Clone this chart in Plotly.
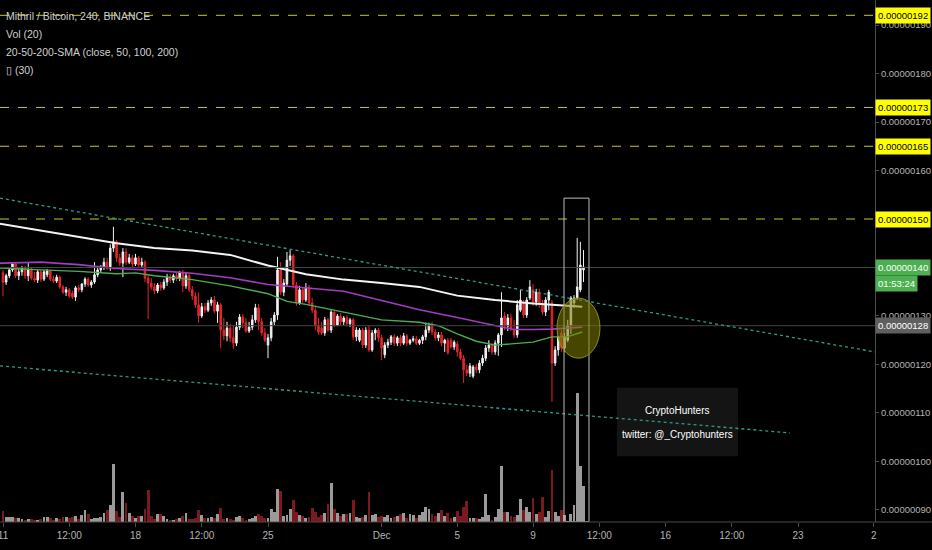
import pandas as pd
import plotly.graph_objects as go

# 4h candles, prices in satoshi (1e-8 BTC)
start = "2018-11-11 00:00"
opens = [138.9, 137.0, 138.3, 139.5, 140.7, 138.3, 139.1, 139.9, 138.3, 139.5,
         137.8, 137.4, 139.1, 137.6, 138.5, 139.3, 137.6, 137.2, 138.0, 136.0,
         134.9, 135.4, 134.7, 133.9, 135.8, 135.4, 136.6, 137.6, 136.4, 137.0,
         138.5, 139.5, 140.1, 141.1, 139.9, 144.0, 145.3, 142.0, 140.9, 143.2,
         141.1, 142.0, 140.7, 142.0, 140.5, 141.1, 137.8, 136.8, 136.0, 135.2,
         136.4, 135.8, 137.0, 138.0, 137.4, 138.3, 137.8, 138.9, 136.2, 138.3,
         135.4, 134.1, 132.3, 130.0, 131.9, 131.2, 132.7, 133.3, 131.0, 132.3,
         127.1, 125.9, 127.5, 125.5, 124.4, 127.7, 129.8, 128.6, 126.9, 127.7,
         129.2, 131.7, 128.8, 126.5, 124.0, 125.5, 128.8, 130.2, 139.5, 134.9,
         136.6, 141.5, 142.4, 136.4, 132.7, 135.4, 133.3, 135.8, 132.7, 131.2,
         128.1, 127.5, 126.5, 129.2, 127.1, 130.8, 128.1, 130.0, 128.8, 129.6,
         128.4, 129.2, 125.7, 125.0, 127.1, 124.0, 127.1, 123.0, 126.5, 127.1,
         125.5, 122.0, 124.0, 124.6, 125.7, 124.4, 125.5, 124.4, 125.9, 124.4,
         125.0, 125.3, 124.4, 125.0, 125.7, 127.1, 128.1, 126.7, 125.5, 126.1,
         124.4, 125.0, 125.0, 123.6, 124.2, 122.6, 121.3, 118.9, 118.2, 117.6,
         119.5, 118.9, 120.3, 121.3, 123.4, 124.0, 122.6, 124.4, 126.1, 130.0,
         127.9, 129.6, 127.1, 126.1, 131.2, 132.7, 130.2, 133.7, 135.4, 132.9,
         134.9, 132.3, 130.8, 133.3, 132.7, 120.3, 123.0, 126.5, 123.4, 125.0,
         128.1, 132.7, 133.7, 135.4, 139.5]
highs = [139.5, 138.7, 139.9, 141.1, 140.9, 139.7, 140.3, 140.3, 141.1, 139.9,
         139.1, 139.5, 139.5, 139.5, 139.7, 139.5, 138.3, 138.5, 138.3, 136.4,
         136.0, 135.8, 135.2, 136.2, 136.4, 136.8, 138.0, 138.0, 137.4, 141.1,
         140.3, 140.5, 142.0, 142.0, 144.8, 148.4, 145.7, 142.8, 144.0, 144.0,
         142.8, 142.6, 142.8, 142.4, 142.0, 141.5, 138.5, 137.8, 136.8, 136.8,
         137.0, 137.6, 138.7, 138.7, 138.7, 138.9, 139.3, 139.5, 139.1, 138.7,
         136.2, 134.9, 134.9, 132.7, 132.7, 133.3, 133.9, 134.1, 132.9, 132.7,
         129.6, 128.8, 128.4, 127.9, 128.8, 130.4, 130.4, 129.6, 128.8, 130.2,
         132.5, 132.5, 129.6, 127.5, 126.3, 129.6, 130.8, 142.2, 141.1, 137.6,
         143.2, 143.6, 142.8, 137.0, 136.2, 136.0, 136.8, 136.4, 133.7, 132.1,
         129.6, 128.8, 129.8, 129.6, 131.2, 131.0, 130.4, 130.6, 130.0, 130.2,
         129.6, 129.6, 127.7, 127.5, 127.5, 127.7, 128.1, 127.1, 127.5, 127.5,
         126.1, 124.6, 125.3, 126.1, 126.3, 125.9, 126.1, 126.5, 126.3, 125.3,
         125.9, 125.9, 125.3, 126.1, 128.6, 128.6, 128.8, 127.3, 126.7, 126.7,
         125.3, 125.5, 125.5, 125.0, 124.8, 123.2, 122.0, 119.9, 120.3, 119.9,
         120.1, 120.9, 122.0, 124.0, 125.0, 124.4, 125.0, 126.5, 134.9, 130.8,
         130.4, 130.4, 129.2, 133.3, 135.4, 133.3, 133.9, 137.4, 136.6, 135.6,
         135.6, 133.3, 133.9, 135.4, 133.3, 123.8, 125.9, 127.1, 126.5, 129.2,
         134.1, 134.3, 146.1, 145.3, 143.6]
lows = [134.1, 136.4, 137.8, 139.1, 137.8, 137.4, 138.3, 137.6, 137.2, 137.4,
        137.0, 136.8, 137.0, 137.2, 138.0, 137.2, 136.8, 136.8, 135.6, 134.5,
        134.1, 133.7, 133.5, 133.1, 134.9, 134.9, 136.0, 136.0, 135.8, 136.6,
        138.0, 138.9, 139.5, 139.5, 139.3, 143.2, 141.1, 140.3, 138.0, 140.5,
        140.7, 140.1, 140.3, 139.9, 139.9, 137.0, 129.4, 135.4, 134.5, 134.7,
        135.2, 135.4, 136.2, 136.8, 136.8, 137.2, 137.2, 134.9, 135.6, 134.9,
        133.3, 131.7, 128.6, 129.6, 130.6, 130.8, 132.1, 130.6, 128.6, 123.4,
        125.0, 124.8, 124.6, 123.2, 123.8, 127.1, 127.5, 126.5, 126.5, 127.1,
        128.6, 127.1, 125.9, 124.6, 121.3, 124.8, 128.1, 129.2, 134.3, 134.1,
        136.0, 140.3, 135.8, 132.1, 132.3, 132.7, 132.9, 132.1, 130.6, 127.1,
        126.1, 126.1, 125.9, 126.7, 126.5, 127.7, 127.9, 128.1, 128.1, 127.9,
        127.7, 125.0, 124.8, 124.6, 123.4, 123.4, 122.6, 122.6, 125.0, 124.6,
        120.9, 121.3, 123.4, 124.0, 123.8, 123.8, 123.8, 124.0, 123.8, 124.0,
        124.6, 124.0, 124.0, 124.2, 125.0, 126.5, 126.1, 125.0, 124.8, 123.8,
        122.6, 122.0, 123.2, 123.0, 121.6, 120.9, 116.2, 117.6, 117.4, 117.2,
        118.2, 118.2, 119.7, 120.7, 122.6, 122.0, 122.0, 121.8, 123.6, 127.1,
        126.9, 126.9, 125.5, 125.5, 130.8, 129.6, 129.6, 133.3, 132.1, 132.1,
        131.7, 130.2, 130.0, 131.2, 112.3, 119.7, 121.8, 122.6, 122.6, 124.6,
        126.3, 131.7, 133.3, 134.9, 137.0]
closes = [137.0, 138.3, 139.5, 140.7, 138.3, 139.1, 139.9, 138.3, 139.5, 137.8,
          137.4, 139.1, 137.6, 139.1, 139.3, 137.6, 137.2, 138.0, 136.0, 134.9,
          135.4, 134.1, 133.9, 135.8, 135.4, 136.6, 137.6, 136.4, 137.0, 138.5,
          139.5, 140.1, 141.1, 139.9, 144.0, 145.3, 142.0, 140.9, 143.2, 141.1,
          142.0, 140.7, 142.0, 140.5, 141.1, 137.8, 136.8, 136.0, 135.2, 136.4,
          135.8, 137.0, 138.0, 137.4, 138.3, 137.8, 138.9, 136.2, 138.3, 135.4,
          134.1, 132.3, 130.0, 131.9, 131.2, 132.7, 133.3, 131.0, 132.3, 127.1,
          125.9, 127.5, 125.5, 124.4, 127.7, 129.8, 128.6, 126.9, 127.7, 129.2,
          131.7, 128.8, 126.5, 125.0, 125.5, 128.8, 130.2, 139.5, 134.9, 136.8,
          141.5, 142.4, 136.4, 132.7, 135.4, 133.3, 135.8, 132.7, 131.2, 128.1,
          126.7, 126.5, 129.2, 127.1, 130.8, 128.1, 130.0, 128.8, 129.6, 128.4,
          129.2, 125.7, 127.1, 127.1, 124.0, 127.1, 123.0, 126.5, 127.1, 125.5,
          123.4, 124.0, 124.6, 125.7, 124.4, 125.5, 124.4, 125.9, 124.4, 125.0,
          125.3, 124.4, 125.0, 125.7, 127.1, 128.1, 126.7, 125.5, 126.1, 124.4,
          125.0, 122.4, 123.6, 124.6, 122.6, 121.3, 118.9, 118.2, 119.7, 119.5,
          118.9, 120.3, 121.3, 123.4, 124.0, 122.6, 124.4, 126.1, 129.6, 127.9,
          129.6, 127.5, 126.1, 132.3, 133.3, 130.2, 133.3, 136.0, 132.9, 134.9,
          132.3, 130.8, 133.3, 134.9, 120.3, 123.0, 125.7, 123.4, 125.7, 128.1,
          133.7, 133.7, 136.0, 140.5, 140.1]
volume = [11, 5, 5, 5, 4, 4, 3, 2, 3, 3, 2, 2, 3, 5, 5, 4, 2, 4, 3, 5,
          5, 4, 5, 6, 3, 7, 12, 8, 3, 4, 4, 5, 9, 12, 17, 58, 11, 5, 30, 19,
          9, 6, 4, 6, 6, 13, 32, 6, 3, 8, 8, 6, 3, 2, 2, 3, 4, 6, 9, 3,
          3, 4, 12, 7, 4, 4, 5, 4, 8, 14, 3, 4, 3, 2, 5, 6, 4, 2, 3, 4,
          6, 8, 6, 4, 4, 13, 10, 33, 31, 6, 7, 13, 22, 10, 7, 6, 4, 5, 14, 10,
          5, 7, 9, 18, 39, 13, 9, 6, 8, 8, 9, 22, 5, 4, 5, 7, 30, 7, 8, 5,
          6, 5, 7, 4, 5, 6, 8, 9, 4, 8, 7, 4, 7, 10, 15, 13, 8, 6, 9, 12,
          6, 9, 4, 5, 11, 6, 15, 21, 4, 4, 4, 3, 5, 28, 7, 2, 5, 13, 56, 10,
          10, 6, 5, 7, 23, 12, 15, 10, 24, 8, 10, 25, 5, 11, 52, 10, 6, 12, 7, 1,
          8, 17, 129, 56, 36]

# moving averages, read at day offsets from Nov 11
sma_a_days = [-0.16, 0, 2, 4, 6, 8, 10, 12, 14, 16, 18, 20, 22, 24, 26, 28, 29, 30.6]
sma_a = [149.0, 148.9, 147.6, 146.4, 145.0, 144.0, 143.5, 142.6, 140.4, 138.6,
         137.5, 136.8, 136.0, 134.2, 133.3, 132.6, 132.3, 131.9]
sma_b_days = [-0.16, 0, 2, 4, 6, 8, 10, 12, 14, 16, 18, 20, 22, 24, 26, 27, 28, 29, 30.6]
sma_b = [140.9, 140.9, 141.1, 140.6, 139.8, 139.4, 138.8, 137.9, 136.5, 135.8,
         135.1, 133.2, 131.3, 129.7, 128.1, 127.2, 127.2, 127.3, 127.7]
sma_c_days = [-0.16, 0, 2, 4, 6, 7, 8, 10, 12, 14, 15, 16, 18, 20, 22, 23, 24, 25,
              26, 28, 29, 29.8, 30.6]
sma_c = [139.9, 139.9, 139.5, 139.2, 138.7, 138.9, 138.3, 137.5, 136.2, 134.6,
         133.0, 132.4, 130.8, 129.2, 128.7, 128.0, 126.3, 124.8, 124.0, 124.6,
         125.7, 125.7, 126.7]

yellow_levels = [192, 173, 165, 150]
last_price = 140
mark_price = 128
countdown = "01:53:24"

upper_trend = (["2018-11-10 20:12", "2018-12-27 01:30"], [154.3, 122.6])
lower_trend = (["2018-11-10 20:12", "2018-12-22 13:40"], [119.7, 105.9])

price_ticks = [90, 100, 110, 120, 130, 140, 150, 160, 170, 180, 190]
tick_dates = ["2018-11-11", "2018-11-14 12:00", "2018-11-18", "2018-11-21 12:00",
              "2018-11-25", "2018-12-01", "2018-12-05", "2018-12-09",
              "2018-12-12 12:00", "2018-12-16", "2018-12-19 12:00", "2018-12-23",
              "2018-12-27"]
tick_text = ["11", "12:00", "18", "12:00", "25", "Dec", "5", "9", "12:00", "16",
             "12:00", "23", "2"]

FONT = "Liberation Sans, Arial, sans-serif"
UP, DOWN = "#f2f2f2", "#e3262b"
VOL_UP, VOL_DOWN = "#9a9a9a", "#7a1a1e"

t0 = pd.Timestamp(start)
times = pd.date_range(start, periods=len(closes), freq="4h")
vol_colors = [VOL_UP if c >= o else VOL_DOWN for o, c in zip(opens, closes)]


def day_dates(days):
    return [t0 + pd.Timedelta(days=d) for d in days]


def fmt(v):
    return f"{v * 1e-8:.8f}"


# tick labels that sit fully under a price tag are hidden, as in the screenshot
covered = {last_price, 150}
price_ticktext = ["" if v in covered else fmt(v) for v in price_ticks]

fig = go.Figure()
fig.add_trace(go.Bar(x=times, y=volume, marker_color=vol_colors, marker_line_width=0,
                     width=4 * 3600 * 1000 * 0.9, yaxis="y", hoverinfo="skip"))
fig.add_trace(go.Candlestick(
    x=times, open=opens, high=highs, low=lows, close=closes, yaxis="y2",
    increasing=dict(line=dict(color=UP, width=1), fillcolor=UP),
    decreasing=dict(line=dict(color=DOWN, width=1), fillcolor=DOWN),
    whiskerwidth=0, hoverinfo="skip"))
for days, vals, col, w in [(sma_c_days, sma_c, "#4caf50", 1.4),
                           (sma_b_days, sma_b, "#a23cc0", 1.6),
                           (sma_a_days, sma_a, "#f4f4f4", 2)]:
    fig.add_trace(go.Scatter(x=day_dates(days), y=vals, mode="lines", yaxis="y2",
                             line=dict(color=col, width=w), hoverinfo="skip"))

shapes = []
for lv in yellow_levels:
    shapes.append(dict(type="line", xref="paper", yref="y2", x0=0, x1=1, y0=lv, y1=lv,
                       line=dict(color="#c9c62a", width=1, dash="dash")))
for lv in (last_price, mark_price):
    shapes.append(dict(type="line", xref="paper", yref="y2", x0=0, x1=1, y0=lv, y1=lv,
                       line=dict(color="#3c4a40" if lv == last_price else "#444444", width=1)))
for xs, ys in (upper_trend, lower_trend):
    shapes.append(dict(type="line", xref="x", yref="y2", x0=xs[0], x1=xs[1],
                       y0=ys[0], y1=ys[1], line=dict(color="#2a9d8a", width=1.3, dash="dot")))
# highlight box and circle on the breakout
shapes.append(dict(type="rect", xref="x", yref="y2", x0="2018-12-10 15:16",
                   x1="2018-12-11 22:57", y0=87.6, y1=154.3,
                   line=dict(color="#bdbdbd", width=1)))
shapes.append(dict(type="circle", xref="x", yref="y2", x0="2018-12-10 06:23",
                   x1="2018-12-12 12:53", y0=121.3, y1=133.7,
                   fillcolor="rgba(128,128,0,0.55)", line=dict(color="#8f8f1c", width=1)))
# watermark panel
shapes.append(dict(type="rect", xref="x", yref="y2", x0="2018-12-13 10:20",
                   x1="2018-12-19 19:55", y0=101.1, y1=115.2,
                   fillcolor="rgba(24,24,24,0.85)", line=dict(width=0), layer="below"))
# bottom axis line across the price scale
shapes.append(dict(type="line", xref="paper", yref="paper", x0=0, x1=1.07, y0=0, y1=0,
                   line=dict(color="#4a4a4a", width=1)))

ann = []
legend_lines = ["Mithril / Bitcoin, 240, BINANCE", "Vol (20)",
                "20-50-200-SMA (close, 50, 100, 200)", "\u25af (30)"]
for k, txt in enumerate(legend_lines):
    ann.append(dict(xref="paper", yref="paper", x=0.005, y=1 - (16 + 18 * k) / 522,
                    xanchor="left", yanchor="middle", text=txt, showarrow=False,
                    font=dict(family=FONT, size=10.5, color="#cfcfcf")))


def price_label(v, text, bg, fg):
    return dict(xref="paper", yref="y2", x=1, y=v, xanchor="left", yanchor="middle",
                text=text, showarrow=False, bgcolor=bg, borderpad=2, xshift=0,
                font=dict(family=FONT, size=9.5, color=fg))


for lv in yellow_levels:
    ann.append(price_label(lv, fmt(lv), "#ffff00", "#000000"))
ann.append(price_label(last_price, fmt(last_price), "#4caf50", "#ffffff"))
ann.append(price_label(136.6, countdown, "#4caf50", "#ffffff"))
ann.append(price_label(mark_price, fmt(mark_price), "#5f5f5f", "#ffffff"))
ann.append(dict(xref="x", yref="y2", x="2018-12-16 14:30", y=110.6, text="CryptoHunters",
                showarrow=False, font=dict(family=FONT, size=10, color="#ffffff")))
ann.append(dict(xref="x", yref="y2", x="2018-12-16 15:00", y=105.5,
                text="twitter: @_Cryptohunters", showarrow=False,
                font=dict(family=FONT, size=10, color="#ffffff")))

fig.update_layout(
    width=932, height=550,
    margin=dict(l=0, r=57, t=0, b=28, pad=0, autoexpand=False),
    paper_bgcolor="#000000", plot_bgcolor="#000000", showlegend=False,
    shapes=shapes, annotations=ann, bargap=0,
    xaxis=dict(type="date", range=["2018-11-10 20:12", "2018-12-27 01:34"],
               tickvals=tick_dates, ticktext=tick_text, showgrid=False, zeroline=False,
               showline=False, ticks="outside", ticklen=4, tickcolor="#4a4a4a",
               ticklabeloverflow="allow", automargin=False,
               tickfont=dict(family=FONT, size=10, color="#b4b4b4"),
               rangeslider=dict(visible=False), fixedrange=True),
    yaxis=dict(range=[0, 522], visible=False, fixedrange=True, automargin=False),
    yaxis2=dict(overlaying="y", side="right", range=[87.52, 195.16],
                tickvals=price_ticks, ticktext=price_ticktext,
                showgrid=False, zeroline=False, showline=True, linecolor="#4a4a4a",
                ticks="outside", ticklen=3, tickcolor="#4a4a4a", automargin=False,
                ticklabeloverflow="allow",
                tickfont=dict(family=FONT, size=9.5, color="#b4b4b4"), fixedrange=True),
)

# page has a default 8px body margin; drop it so the chart fills the window
fig.write_html("out.html", config={"displayModeBar": False},
               post_script="document.body.style.margin='0';"
                           "document.body.style.background='#000';")
